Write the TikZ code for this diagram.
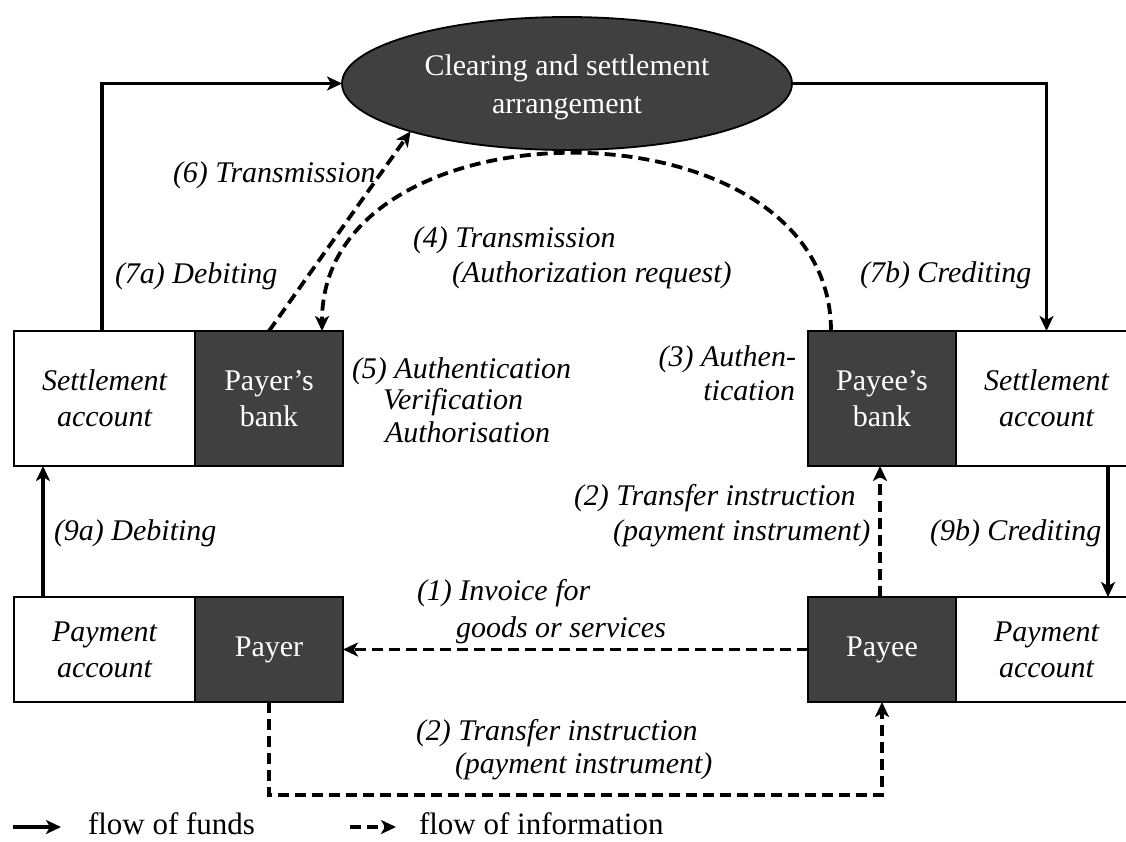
\documentclass[tikz,border=0pt]{standalone}
\usepackage{fontspec}
\setmainfont{Liberation Serif}
\usetikzlibrary{arrows.meta,shapes.geometric}
\definecolor{boxdark}{RGB}{64,64,64}
\newcommand{\txtsize}{\fontsize{30}{36}\selectfont}
\begin{document}
\begin{tikzpicture}[x=1pt,y=-1pt,
  every node/.style={inner sep=0pt, outer sep=0pt},
  cell/.style={draw=black, line width=2.5pt, align=center, font=\txtsize},
  lightcell/.style={cell, fill=white, font=\txtsize\itshape},
  darkcell/.style={cell, fill=boxdark, text=white},
  tall/.style={minimum height=135pt},
  short/.style={minimum height=105pt},
  acct/.style={minimum width=181pt},
  party/.style={minimum width=148pt},
  lab/.style={font=\txtsize\itshape},
  legendtext/.style={font=\fontsize{31}{36}\selectfont},
  fund/.style={line width=3.8pt, -{Stealth[length=15pt,width=14pt,inset=4pt]}},
  info/.style={fund, dash pattern=on 11pt off 6pt}]
\useasboundingbox (0,0) rectangle (1126,841);

% central arrangement
\node[ellipse, draw=black, line width=1.8pt, fill=boxdark,
      minimum width=450pt, minimum height=133pt] (ell) at (567,83.5) {};
\node[text=white, align=center, font=\fontsize{30}{38}\selectfont] (elltext)
      at (567,87) {Clearing and settlement\\arrangement};

% banks and their settlement accounts
\node[lightcell, tall, acct]  (sa1) at (104.5,398.5) {Settlement\\account};
\node[darkcell,  tall, party] (pb)  at (269,398.5)   {Payer’s\\bank};
\node[darkcell,  tall, party] (pyb) at (882,398.5)   {Payee’s\\bank};
\node[lightcell, tall, acct]  (sa2) at (1046.5,398.5) {Settlement\\account};

% payer, payee and their payment accounts
\node[lightcell, short, acct]  (pa1)   at (104.5,649.5) {Payment\\account};
\node[darkcell,  short, party] (payer) at (269,649.5)   {Payer};
\node[darkcell,  short, party] (payee) at (882,649.5)   {Payee};
\node[lightcell, short, acct]  (pa2)   at (1046.5,649.5) {Payment\\account};

% flows of funds
\draw[fund] ([xshift=-2.5pt]sa1.north) |- (ell.west);
\draw[fund] (ell.east) -| (sa2.north);
\draw[fund] ([xshift=29pt]pa1.north west) -- ([xshift=29pt]sa1.south west);
\draw[fund] ([xshift=-29pt]sa2.south east) -- ([xshift=-29pt]pa2.north east);

% flows of information
\draw[info] (pb.north) -- (ell.197);
\draw[info] ([xshift=-51pt]pyb.north) .. controls +(0,-236) and +(0,-236) .. ([xshift=53pt]pb.north);
\draw[info] (payee.west) -- (payer.east);
\draw[info] ([xshift=-2pt]payee.north) -- ([xshift=-2pt]pyb.south);
\draw[info] (payer.south) -- ++(0,93) -| (payee.south);

% step labels
\node[lab, anchor=base west] (l6)  at (173,182) {(6) Transmission};
\node[lab, anchor=base west] (l7a) at (115,283) {(7a) Debiting};
\node[lab, anchor=base west] (l4a) at (413,247) {(4) Transmission};
\node[lab, anchor=base west] (l4b) at (452,282) {(Authorization request)};
\node[lab, anchor=base west] (l7b) at (860,282) {(7b) Crediting};
\node[lab, anchor=base west] (l5a) at (352,378) {(5) Authentication};
\node[lab, anchor=base west] (l5b) at (383,409) {Verification};
\node[lab, anchor=base west] (l5c) at (385,442) {Authorisation};
\node[lab, anchor=base east] (l3a) at (796,366) {(3) Authen-};
\node[lab, anchor=base east] (l3b) at (795,400) {tication};
\node[lab, anchor=base west] (l2a) at (574,505) {(2) Transfer instruction};
\node[lab, anchor=base west] (l2b) at (613,540) {(payment instrument)};
\node[lab, anchor=base west] (l9a) at (54,540)  {(9a) Debiting};
\node[lab, anchor=base west] (l9b) at (930,540) {(9b) Crediting};
\node[lab, anchor=base west] (l1a) at (417,600) {(1) Invoice for};
\node[lab, anchor=base west] (l1b) at (456,637) {goods or services};
\node[lab, anchor=base west] (l2c) at (416,740) {(2) Transfer instruction};
\node[lab, anchor=base west] (l2d) at (455,773) {(payment instrument)};

% legend
\coordinate (k1a) at (13,827);
\coordinate (k1b) at (61,827);
\draw[fund] (k1a) -- (k1b);
\node[legendtext, anchor=base west] (k1t) at (88,834) {flow of funds};
\coordinate (k2a) at (350,827);
\coordinate (k2b) at (396,827);
\draw[info] (k2a) -- (k2b);
\node[legendtext, anchor=base west] (k2t) at (419,834) {flow of information};
\end{tikzpicture}
\end{document}
